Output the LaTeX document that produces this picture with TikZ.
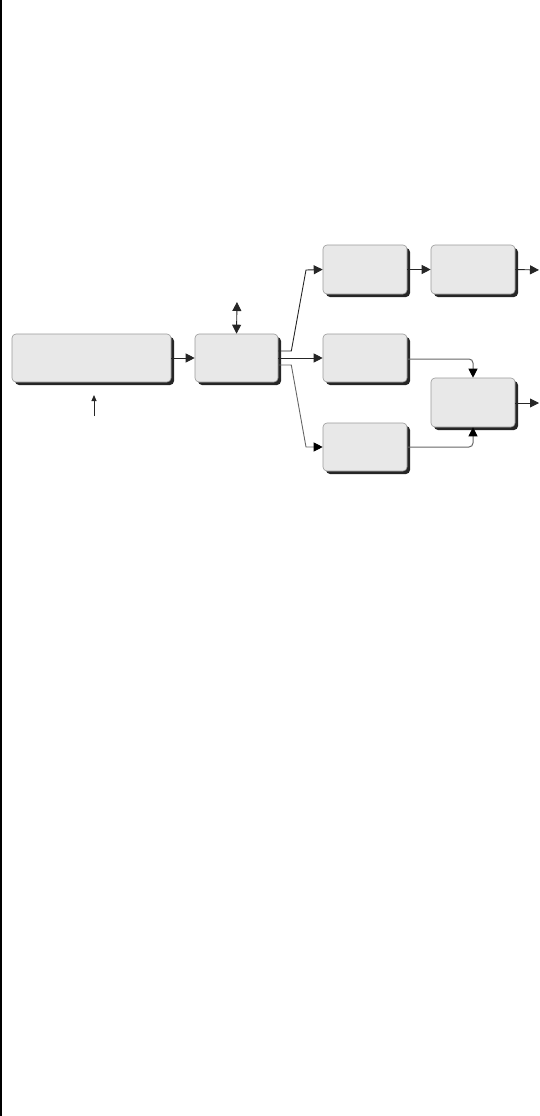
\documentclass[tikz,border=0pt]{standalone}
\usetikzlibrary{arrows.meta,shadows,calc}
\definecolor{boxfill}{HTML}{E8E8E8}
\definecolor{boxline}{HTML}{9A9A9A}
\tikzset{
  blk/.style={draw=boxline, line width=0.6pt, fill=boxfill, rounded corners=4pt,
    inner sep=0pt, general shadow={shadow xshift=3pt, shadow yshift=-3pt, fill=black!85}},
  conn/.style={draw=black!85, line width=0.9pt},
  arr/.style={conn, -{Triangle[length=9pt,width=9pt]}},
  grayconn/.style={draw=black!60, line width=1pt, rounded corners=4pt, -{Triangle[length=9pt,width=9pt,fill=black,color=black]}},
}
\begin{document}
\begin{tikzpicture}[x=1pt,y=-1pt]
\useasboundingbox (0,0) rectangle (539,1116);
\draw[line width=2pt] (1,0) -- (1,1116);
% boxes
\node[blk, minimum width=159pt, minimum height=48pt] (A) at (91.5,358) {};
\node[blk, minimum width=83pt, minimum height=48pt] (B) at (236.5,358) {};
\node[blk, minimum width=84pt, minimum height=49pt] (C) at (365,269.5) {};
\node[blk, minimum width=84pt, minimum height=49pt] (D) at (473,269.5) {};
\node[blk, minimum width=84pt, minimum height=48pt] (E) at (365,358) {};
\node[blk, minimum width=84pt, minimum height=48pt] (F) at (365,447) {};
\node[blk, minimum width=84pt, minimum height=49pt] (G) at (473,402.5) {};
% free ends
\coordinate (dtop) at (237,302);
\coordinate (ain) at (94,416);
\coordinate (aintip) at (94,395);
\coordinate (dout) at (539,270);
\coordinate (gout) at (539,403);
% connectors
\draw[arr] (A.east) -- (B.west);
\draw[conn, {Triangle[length=9pt,width=9pt]}-{Triangle[length=9pt,width=9pt]}] (dtop) -- (B.north);
\draw[conn, -{Triangle[length=6pt,width=5pt]}] (ain) -- (aintip);
\draw[arr] (C.east) -- (D.west);
\draw[arr] (D.east) -- (dout);
\draw[arr] (G.east |- gout) -- (gout);
\draw[arr] ($(B.east)+(0,-7)$) -- ++(13,0) -- (306,270) -- (C.west);
\draw[arr] (B.east) -- (E.west);
\draw[conn, draw=black!60, -{Triangle[length=9pt,width=9pt,color=black]}] ($(B.east)+(0,7)$) -- ++(13,0) -- (306,447) -- (F.west);
\draw[grayconn] ($(E.east)+(0,1)$) -- (G.north |- 0,359) -- (G.north);
\draw[grayconn] (F.east) -- (G.south |- F.east) -- (G.south);
\end{tikzpicture}
\end{document}
